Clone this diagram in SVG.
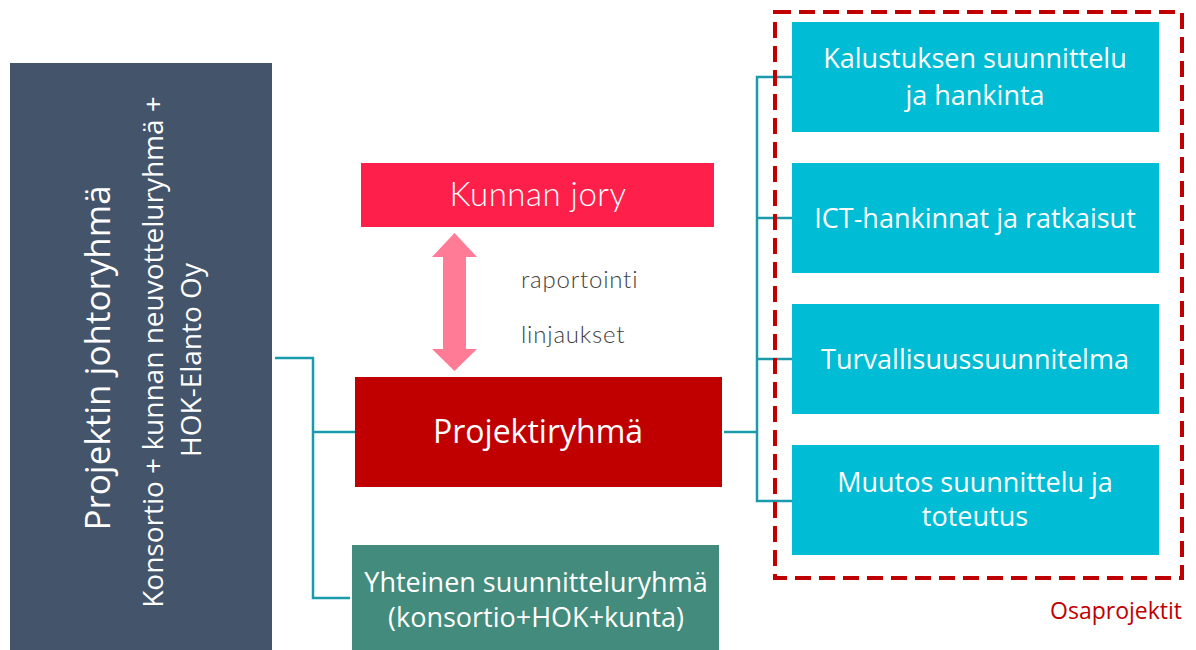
<svg xmlns="http://www.w3.org/2000/svg" width="1196" height="650" viewBox="0 0 1196 650">
<style>
.conn{fill:none;stroke:#1A9BAB;stroke-width:2.5}
.w{fill:#FFFFFF;font-family:"Open Sans","Noto Sans",sans-serif;text-anchor:middle}
.sub{fill:#00BCD4}
.lbl{fill:#404040;font-family:Lato,"Open Sans",sans-serif;font-size:24px;font-weight:300;letter-spacing:0.8px}
</style>
<rect width="1196" height="650" fill="#FFFFFF"/>
<g id="connectors">
<polyline class="conn" points="275,358 313,358 313,598 350,598"/>
<line class="conn" x1="313" y1="432" x2="355" y2="432"/>
<line class="conn" x1="724" y1="432" x2="757" y2="432"/>
<polyline class="conn" points="792,77 757,77 757,501 792,501"/>
<line class="conn" x1="757" y1="218" x2="792" y2="218"/>
<line class="conn" x1="757" y1="359" x2="792" y2="359"/>
<polygon id="arrow" fill="#FF7B96" points="454.5,233 477,257 466,257 466,349 477,349 454.5,371 432,349 443,349 443,257 432,257"/>
</g>
<g id="johtoryhma">
<rect x="10" y="63" width="262" height="587" fill="#44546A"/>
<text class="w" transform="translate(110,358) rotate(-90)" font-size="35">Projektin johtoryhmä</text>
<text class="w" transform="translate(163,352) rotate(-90)" font-size="28">Konsortio + kunnan neuvotteluryhmä +</text>
<text class="w" transform="translate(201,360) rotate(-90)" font-size="28">HOK-Elanto Oy</text>
</g>
<g id="kunnanjory">
<rect x="361" y="163" width="353" height="64" fill="#FF1F4B"/>
<text x="538" y="206" fill="#FFFFFF" font-family="Lato,'Open Sans',sans-serif" font-size="33" font-weight="300" letter-spacing="0.5" text-anchor="middle">Kunnan jory</text>
</g>
<g id="labels">
<text class="lbl" x="521" y="288">raportointi</text>
<text class="lbl" x="521" y="343">linjaukset</text>
</g>
<g id="projektiryhma">
<rect x="355" y="377" width="367" height="110" fill="#C00000"/>
<text class="w" x="538" y="443" font-size="32">Projektiryhmä</text>
</g>
<g id="yhteinen">
<rect x="352" y="545" width="367" height="105" fill="#438B7C"/>
<text class="w" x="536" y="592" font-size="27">Yhteinen suunnitteluryhmä</text>
<text class="w" x="536" y="627" font-size="27">(konsortio+HOK+kunta)</text>
</g>
<g id="osaprojektit">
<rect x="775" y="12" width="407" height="566" fill="none" stroke="#C00000" stroke-width="4" stroke-dasharray="16 8"/>
<text x="1182" y="619" fill="#C00000" font-family="'Open Sans','Noto Sans',sans-serif" font-size="23" text-anchor="end">Osaprojektit</text>
</g>
<g id="kalustus">
<rect class="sub" x="792" y="22" width="367" height="110"/>
<text class="w" x="975" y="68" font-size="27">Kalustuksen suunnittelu</text>
<text class="w" x="975" y="105" font-size="27">ja hankinta</text>
</g>
<g id="ict">
<rect class="sub" x="792" y="163" width="367" height="110"/>
<text class="w" x="975" y="228" font-size="27">ICT-hankinnat ja ratkaisut</text>
</g>
<g id="turva">
<rect class="sub" x="792" y="304" width="367" height="110"/>
<text class="w" x="975" y="369" font-size="27">Turvallisuussuunnitelma</text>
</g>
<g id="muutos">
<rect class="sub" x="792" y="445" width="367" height="110"/>
<text class="w" x="975" y="492" font-size="27">Muutos suunnittelu ja</text>
<text class="w" x="975" y="526" font-size="27">toteutus</text>
</g>
</svg>
